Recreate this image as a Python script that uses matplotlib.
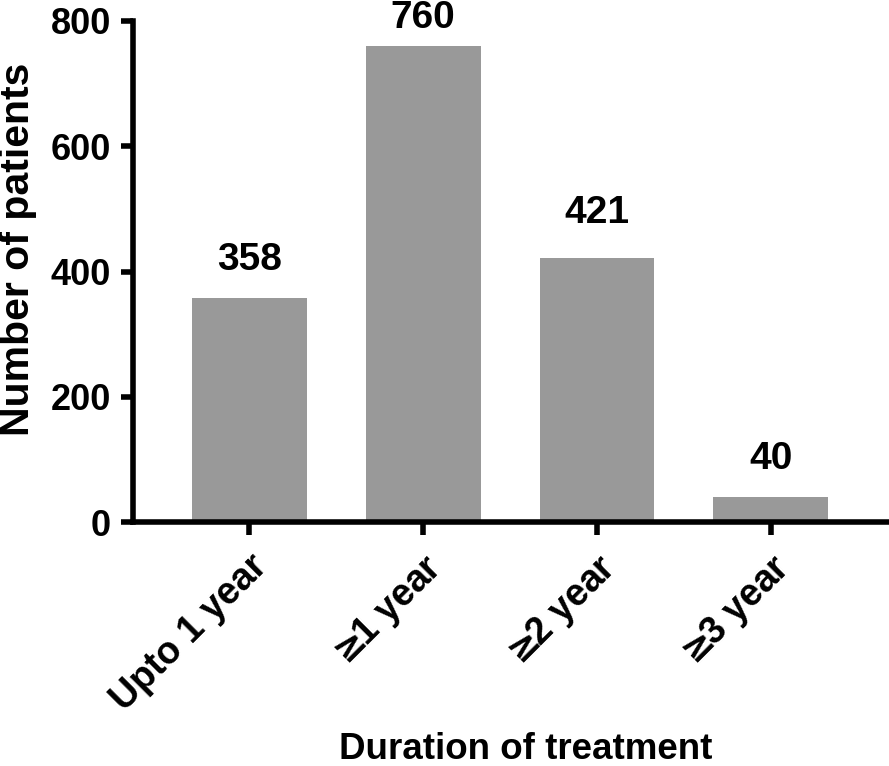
import matplotlib
matplotlib.use("Agg")
import matplotlib.pyplot as plt

categories = ["Upto 1 year", r"${\geq}\!\!$1 year", r"${\geq}\!\!$2 year", r"${\geq}\!\!$3 year"]
values = [358, 760, 421, 40]
yticks = [0, 200, 400, 600, 800]
label_gap_pt = [14.5, 7.5, 20, 14.5]

plt.rcParams['font.family'] = ['Liberation Sans', 'DejaVu Sans']
plt.rcParams['font.weight'] = 'bold'

W, H = 889, 766
fig = plt.figure(figsize=(W / 100, H / 100), dpi=100)
ax = fig.add_axes([133 / W, 1 - 522 / H, (W - 133) / W, 501 / H])

x = list(range(len(categories)))
ax.bar(x, values, width=0.66, color="#999999", edgecolor="none")
for xi, v, g in zip(x, values, label_gap_pt):
    ax.annotate(str(v), (xi, v), xytext=(0, g), textcoords="offset points",
                ha="center", va="bottom", fontsize=28, fontweight="bold",
                annotation_clip=False)

ax.set_xlim(-0.67, 3.68)
ax.set_ylim(0, 800)
ax.set_yticks(yticks)
ax.set_yticklabels([str(t) for t in yticks], fontsize=26, fontweight="bold")
ax.set_xticks(x)
ax.set_xticklabels(categories, rotation=45, ha="right", va="top",
                   rotation_mode="anchor", fontsize=27, fontweight="bold")

for s in ["top", "right"]:
    ax.spines[s].set_visible(False)
for s in ["left", "bottom"]:
    ax.spines[s].set_linewidth(4)
ax.tick_params(axis="both", direction="out", length=9, width=4)
ax.tick_params(axis="y", pad=7)
ax.tick_params(axis="x", pad=10)

ax.set_ylabel("Number of patients", fontsize=29.5, fontweight="bold")
ax.yaxis.set_label_coords(37 / W, 1 - 249 / H, transform=fig.transFigure)
ax.set_xlabel("Duration of treatment", fontsize=26.5, fontweight="bold")
ax.xaxis.set_label_coords(525.5 / W, 1 - 732 / H, transform=fig.transFigure)

fig.savefig("out.png", dpi=100)
